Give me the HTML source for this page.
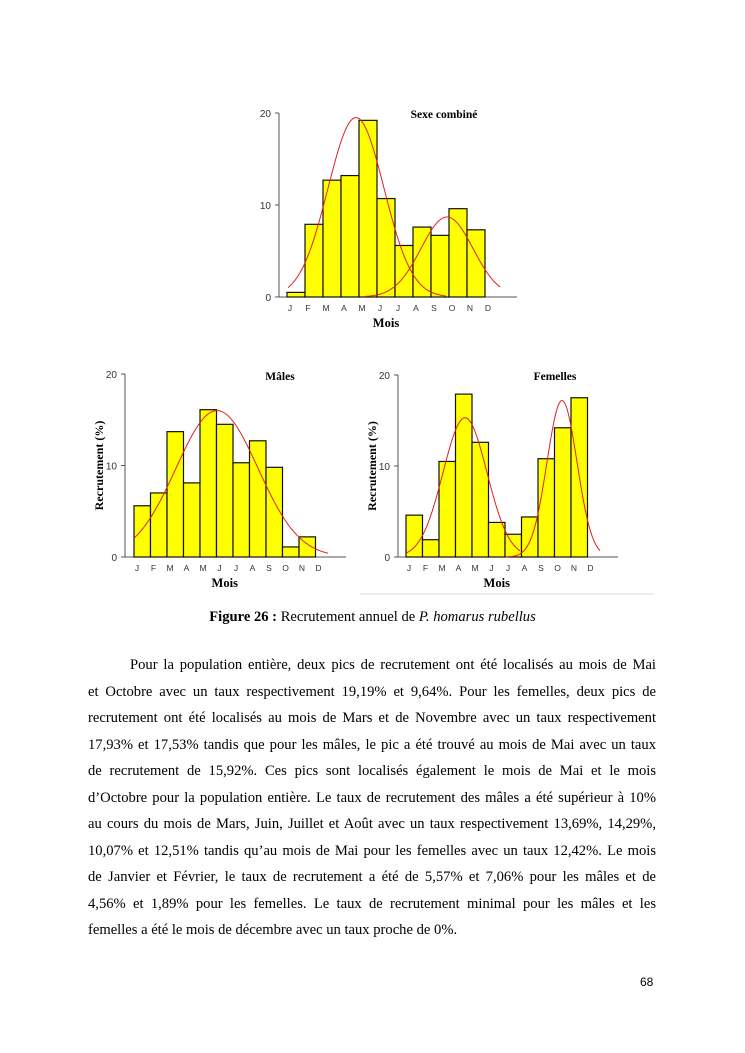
<!DOCTYPE html>
<html><head><meta charset="utf-8"><style>
body{margin:0;background:#fff;}
#p{position:relative;width:745px;height:1053px;overflow:hidden;font-family:"Liberation Serif",serif;color:#000;}
.l{position:absolute;left:88px;width:568px;font-size:14.6px;line-height:18px;text-align:justify;text-align-last:justify;white-space:nowrap;}
.l.n{text-align-last:left;}
svg{position:absolute;left:0;top:0;}
</style></head><body><div id="p">
<svg id="s" width="745" height="1053" xmlns="http://www.w3.org/2000/svg"></svg>
<div style="position:absolute;left:0;width:745px;top:609px;text-align:center;font-size:14.6px;">
<b>Figure 26 :</b> Recrutement annuel de <i>P. homarus rubellus</i></div>
<div class="l" style="top:656px;left:130px;width:526px">Pour la population entière, deux pics de recrutement ont été localisés au mois de Mai</div>
<div class="l" style="top:683px">et Octobre avec un taux respectivement 19,19% et 9,64%. Pour les femelles, deux pics de</div>
<div class="l" style="top:709px">recrutement ont été localisés au mois de Mars et de Novembre avec un taux respectivement</div>
<div class="l" style="top:736px">17,93% et 17,53% tandis que pour les mâles, le pic a été trouvé au mois de Mai avec un taux</div>
<div class="l" style="top:762px">de recrutement de 15,92%. Ces pics sont localisés également le mois de Mai et le mois</div>
<div class="l" style="top:789px">d’Octobre pour la population entière. Le taux de recrutement des mâles a été supérieur à 10%</div>
<div class="l" style="top:815px">au cours du mois de Mars, Juin, Juillet et Août avec un taux respectivement 13,69%, 14,29%,</div>
<div class="l" style="top:842px">10,07% et 12,51% tandis qu’au mois de Mai pour les femelles avec un taux 12,42%. Le mois</div>
<div class="l" style="top:868px">de Janvier et Février, le taux de recrutement a été de 5,57% et 7,06% pour les mâles et de</div>
<div class="l" style="top:895px">4,56% et 1,89% pour les femelles. Le taux de recrutement minimal pour les mâles et les</div>
<div class="l n" style="top:921px">femelles a été le mois de décembre avec un taux proche de 0%.</div>
<div style="position:absolute;left:640px;top:975px;font-family:'Liberation Sans',sans-serif;font-size:12px;">68</div>
</div>
<script>
const s=document.getElementById('s');let h='';
const M=['J','F','M','A','M','J','J','A','S','O','N','D'];
function chart(o){
 const {ax,y0,y20,bx,bw,vals,title,tx,ty,ylab,curves,ext}=o;
 const k=(y0-y20)/20;
 h+=`<line x1="${ax}" y1="${y20}" x2="${ax}" y2="${y0}" stroke="#555" stroke-width="1"/>`;
 h+=`<line x1="${ax}" y1="${y0}" x2="${bx+12*bw+ext}" y2="${y0}" stroke="#555" stroke-width="1"/>`;
 [0,10,20].forEach(v=>{const y=y0-v*k;h+=`<line x1="${ax-4}" y1="${y}" x2="${ax}" y2="${y}" stroke="#555"/><text x="${ax-8}" y="${y+4}" font-size="10" text-anchor="end" font-family="Liberation Sans,sans-serif" fill="#333">${v}</text>`;});
 vals.forEach((v,i)=>{h+=`<rect x="${bx+i*bw}" y="${y0-v*k}" width="${bw}" height="${v*k}" fill="#ffff00" stroke="#111" stroke-width="1.2"/>`;});
 M.forEach((m,i)=>{h+=`<text x="${bx+i*bw+3}" y="${y0+14}" font-size="8.5" text-anchor="middle" font-family="Liberation Sans,sans-serif" fill="#333">${m}</text>`;});
 h+=`<text x="${bx+5.5*bw}" y="${y0+30}" font-size="12.5" font-weight="bold" text-anchor="middle" font-family="Liberation Serif,serif">Mois</text>`;
 h+=`<text x="${tx}" y="${ty}" font-size="11.5" font-weight="bold" text-anchor="middle" font-family="Liberation Serif,serif">${title}</text>`;
 if(ylab)h+=`<text transform="translate(${ax-22},${(y0+y20)/2}) rotate(-90)" font-size="12" font-weight="bold" text-anchor="middle" font-family="Liberation Serif,serif">Recrutement (%)</text>`;
 curves.forEach(c=>{let d='';for(let x=c[3];x<=c[4];x+=1){const y=y0-c[0]*Math.exp(-((x-c[1])**2)/(2*c[2]*c[2]))*k;d+=(d?'L':'M')+x+' '+y.toFixed(1);}h+=`<path d="${d}" fill="none" stroke="#e02020" stroke-width="1"/>`;});
}
chart({ax:279,y0:297,y20:113,bx:287,bw:18,ext:14,vals:[0.5,7.9,12.7,13.2,19.2,10.7,5.6,7.6,6.7,9.6,7.3],title:'Sexe combiné',tx:444,ty:118,
 curves:[[19.5,356,28,288,446],[8.7,447,26,365,500]]});
chart({ax:125,y0:557,y20:374,bx:134,bw:16.5,ext:14,vals:[5.6,7.0,13.7,8.1,16.1,14.5,10.3,12.7,9.8,1.1,2.2],title:'Mâles',tx:280,ty:380,ylab:1,
 curves:[[16,217,41,134,328]]});
chart({ax:398,y0:557,y20:375,bx:406,bw:16.5,ext:14,vals:[4.6,1.9,10.5,17.9,12.6,3.8,2.5,4.4,10.8,14.2,17.5],title:'Femelles',tx:555,ty:380,ylab:1,
 curves:[[15.3,465,22,406,520],[17.2,562,15,505,600]]});
h+=`<line x1="360" y1="594" x2="654" y2="594" stroke="#ddd"/>`;
s.innerHTML=h;
</script>
</body></html>
